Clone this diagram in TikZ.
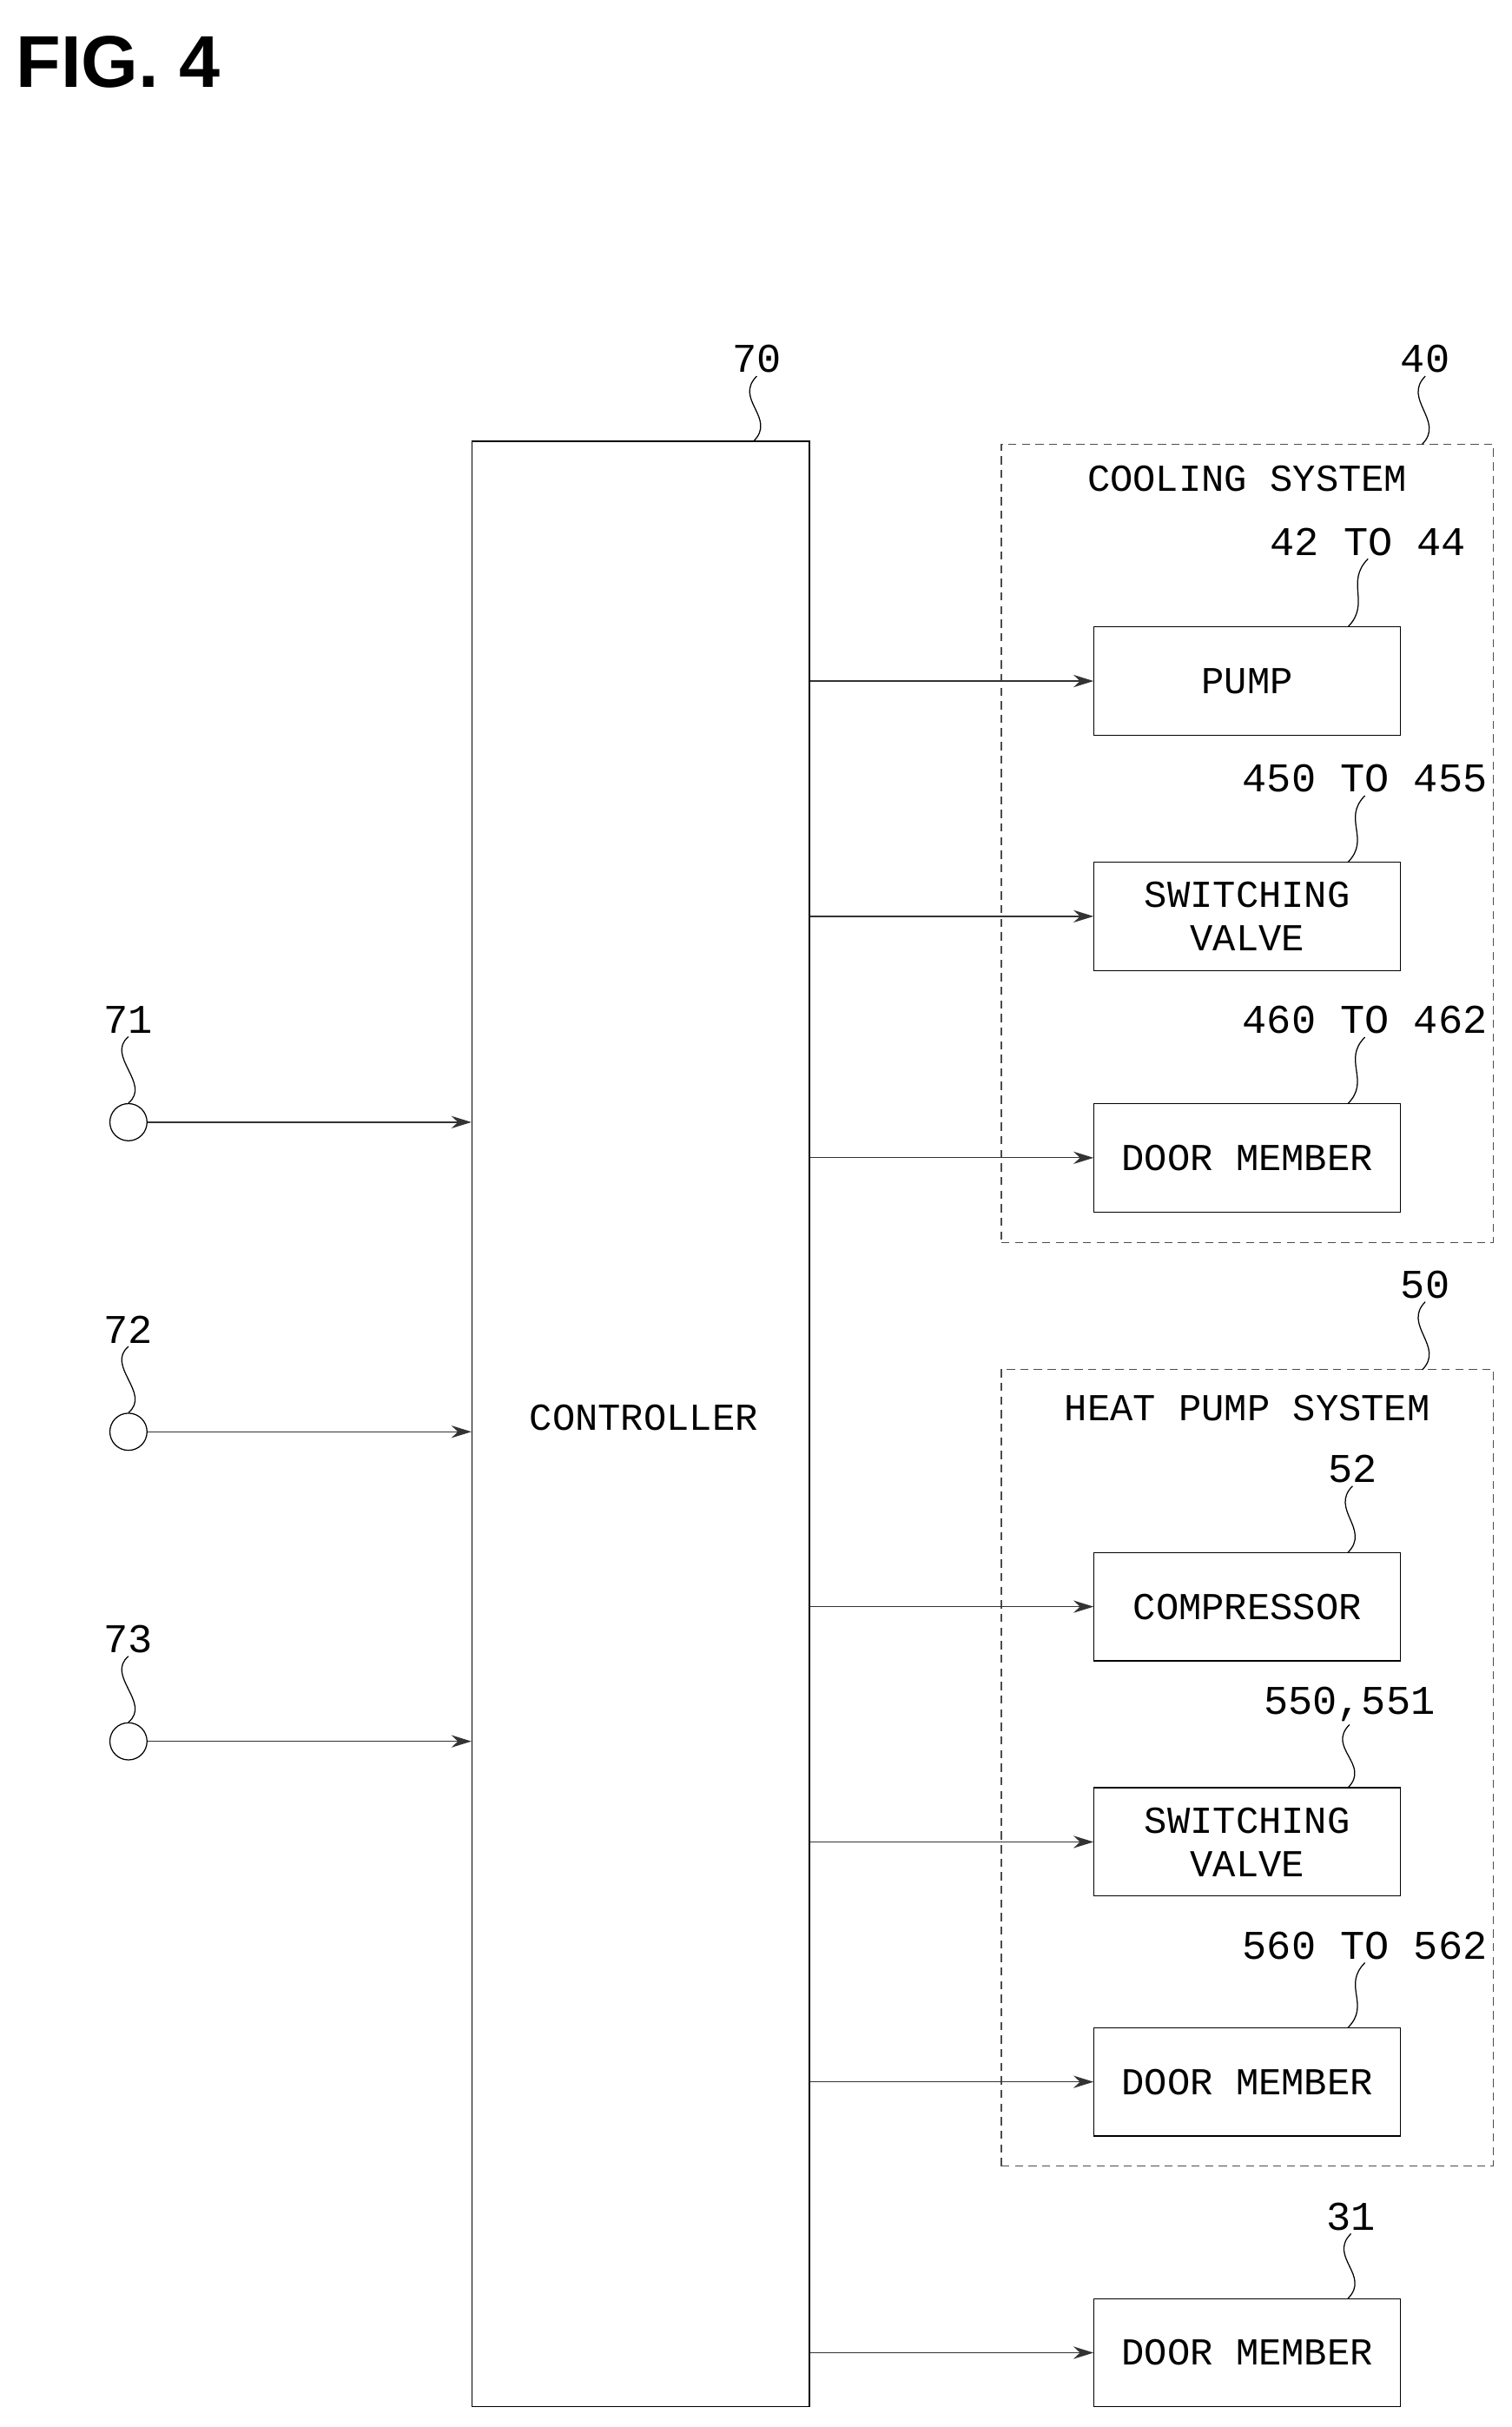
\documentclass[tikz,border=0pt]{standalone}
\usepackage{fontspec}
\setmainfont{Liberation Mono}
\newfontfamily\titlefont{Liberation Sans}
\usepackage{tikz}
\usetikzlibrary{arrows.meta, positioning}

\tikzset{
  blk/.style={rectangle, draw=black, thin, minimum width=3.96cm, minimum height=1.4cm,
    align=center, font=\fontsize{14}{16}\selectfont, inner sep=0pt},
  grp/.style={rectangle, draw=black!70, densely dashed, thin, inner sep=0pt},
  num/.style={font=\fontsize{15}{16}\selectfont, inner sep=1pt},
  sig/.style={-{Stealth[length=2.6mm,width=1.6mm]}, thin, black!80},
  lead/.style={thin}
}
\newcommand{\leadto}[2]{\draw[lead] (#1.south) .. controls +(-0.3cm,-0.3cm) and +(0.3cm,0.3cm) .. (#2);}

\begin{document}
\begin{tikzpicture}[x=0.02cm, y=-0.02cm]
  \useasboundingbox (0,0) rectangle (977,1568);

  \node[anchor=west, font=\titlefont\bfseries\fontsize{27}{28}\selectfont, inner sep=0pt] (title) at (10,40) {FIG. 4};

  % controller
  \node (ctrl) [rectangle, draw=black, thin, minimum width=4.36cm, minimum height=25.4cm] at (414,920) {};
  \node[font=\fontsize{14}{16}\selectfont] (ctrltxt) at (416,916) {CONTROLLER};
  \node[num] (n70) at (489,232) {70};
  \coordinate (p70) at (487,285);
  \leadto{n70}{p70}

  % cooling system
  \node[grp, minimum width=6.36cm, minimum height=10.32cm] (cool) at (806,545) {};
  \node[font=\fontsize{14}{16}\selectfont] (cooltxt) at (806,309) {COOLING SYSTEM};
  \node[num] (n40) at (921,232) {40};
  \coordinate (p40) at (919,287);
  \leadto{n40}{p40}

  \node[blk] (pump) at (806,440) {PUMP};
  \node[blk] (valveA) at (806,592) {SWITCHING\\VALVE};
  \node[blk] (doorA) at (806,748) {DOOR MEMBER};
  \node[num] (n42) at (884,350) {42 TO 44};
  \node[num] (n450) at (882,503) {450 TO 455};
  \node[num] (n460) at (882,659) {460 TO 462};
  \coordinate (p42) at (871,405);
  \coordinate (p450) at (871,557);
  \coordinate (p460) at (871,713);
  \leadto{n42}{p42}
  \leadto{n450}{p450}
  \leadto{n460}{p460}

  % heat pump system
  \node[grp, minimum width=6.36cm, minimum height=10.3cm] (heat) at (806,1142) {};
  \node[font=\fontsize{14}{16}\selectfont] (heattxt) at (806,910) {HEAT PUMP SYSTEM};
  \node[num] (n50) at (921,830) {50};
  \coordinate (p50) at (919,885);
  \leadto{n50}{p50}

  \node[blk] (comp) at (806,1038) {COMPRESSOR};
  \node[blk] (valveB) at (806,1190) {SWITCHING\\VALVE};
  \node[blk] (doorB) at (806,1345) {DOOR MEMBER};
  \node[num] (n52) at (874,949) {52};
  \node[num] (n550) at (872,1101) {550,551};
  \node[num] (n560) at (882,1257) {560 TO 562};
  \coordinate (p52) at (871,1003);
  \coordinate (p550) at (871,1155);
  \coordinate (p560) at (871,1310);
  \leadto{n52}{p52}
  \leadto{n550}{p550}
  \leadto{n560}{p560}

  % door member 31
  \node[blk] (doorC) at (806,1520) {DOOR MEMBER};
  \node[num] (n31) at (873,1432) {31};
  \coordinate (p31) at (871,1485);
  \leadto{n31}{p31}

  % outputs
  \foreach \dst in {pump, valveA, doorA, comp, valveB, doorB, doorC}
    \draw[sig] (ctrl.east |- \dst.west) -- (\dst.west);

  % inputs
  \foreach \id/\yy in {71/725, 72/925, 73/1125} {
    \node[circle, draw=black, thin, minimum size=0.48cm, inner sep=0pt] (in\id) at (83,\yy) {};
    \node[num] (n\id) at (83,\yy-66) {\id};
    \draw[lead] (n\id.south) .. controls +(-0.3cm,-0.25cm) and +(0.3cm,0.25cm) .. (in\id.north);
    \draw[sig] (in\id.east) -- (in\id.east -| ctrl.west);
  }
\end{tikzpicture}
\end{document}
